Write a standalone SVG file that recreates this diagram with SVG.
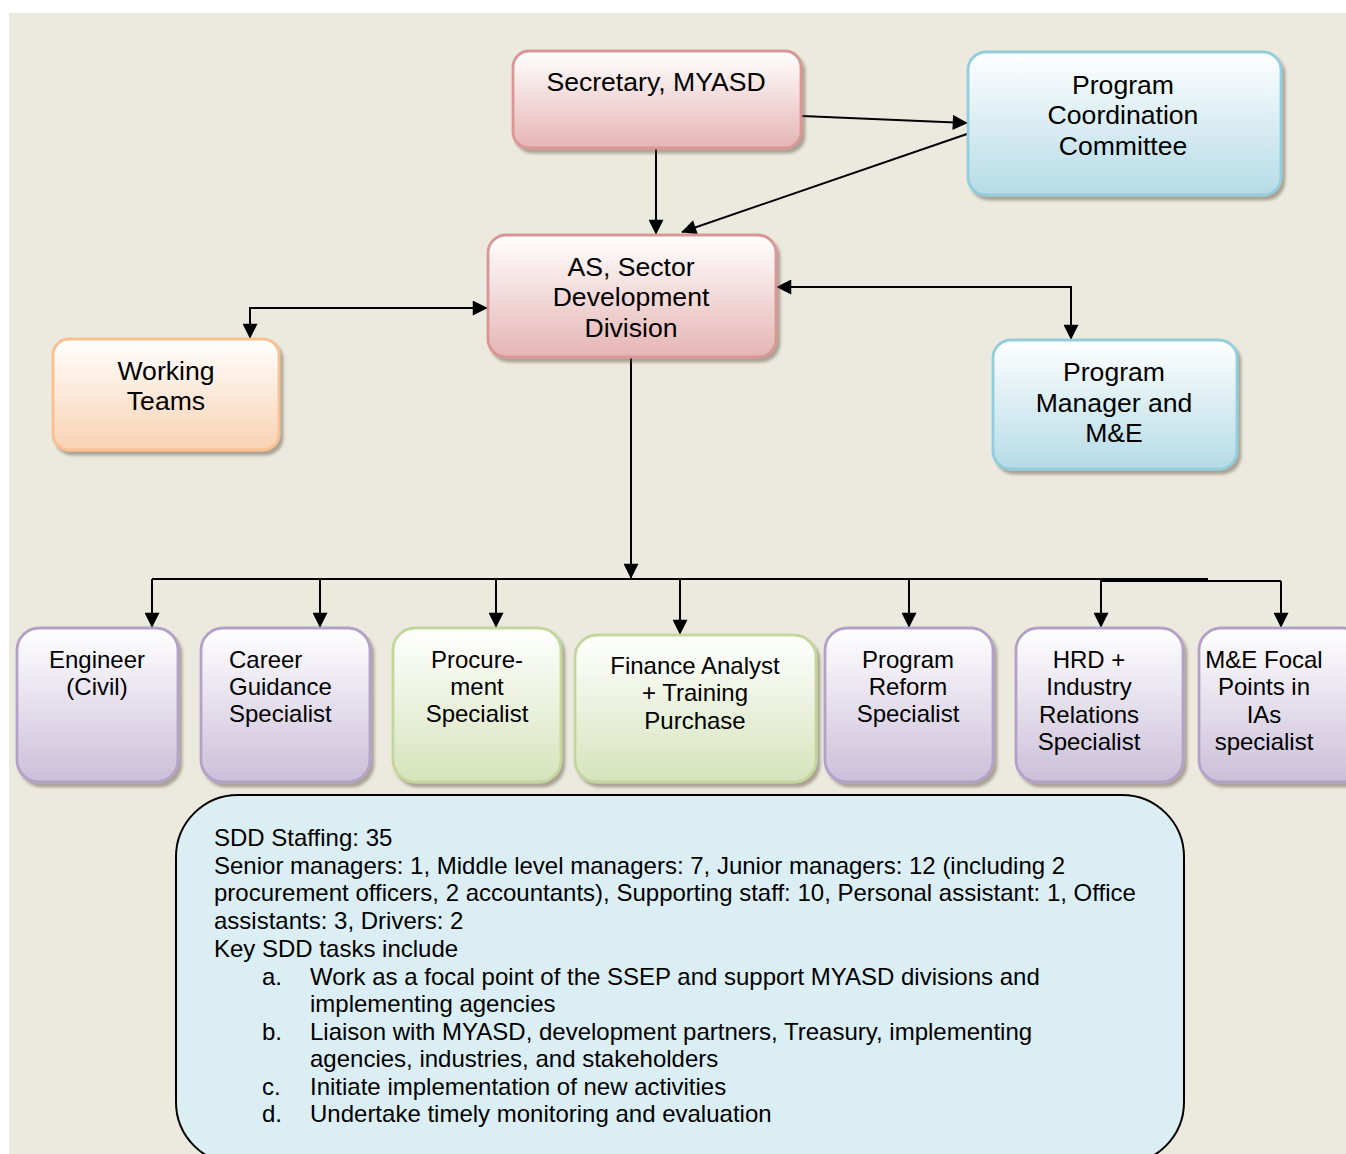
<svg xmlns="http://www.w3.org/2000/svg" width="1346" height="1154" viewBox="0 0 1346 1154">
<defs>
<linearGradient id="gPink" x1="0" y1="0" x2="0" y2="1"><stop offset="0" stop-color="#ffffff"/><stop offset="1" stop-color="#E5B5B4"/></linearGradient>
<linearGradient id="gBlue" x1="0" y1="0" x2="0" y2="1"><stop offset="0" stop-color="#ffffff"/><stop offset="1" stop-color="#B5DBE6"/></linearGradient>
<linearGradient id="gOrange" x1="0" y1="0" x2="0" y2="1"><stop offset="0" stop-color="#ffffff"/><stop offset="1" stop-color="#F9D2B2"/></linearGradient>
<linearGradient id="gLav" x1="0" y1="0" x2="0" y2="1"><stop offset="0" stop-color="#ffffff"/><stop offset="1" stop-color="#CBBFD9"/></linearGradient>
<linearGradient id="gGreen" x1="0" y1="0" x2="0" y2="1"><stop offset="0" stop-color="#ffffff"/><stop offset="1" stop-color="#D6E3BB"/></linearGradient>
<filter id="shadow" x="-10%" y="-10%" width="125%" height="130%">
<feDropShadow dx="3" dy="4" stdDeviation="1.5" flood-color="#5a4a3a" flood-opacity="0.45"/>
</filter>
<marker id="arr" viewBox="0 0 10 10" refX="9.5" refY="5" markerWidth="16" markerHeight="15" markerUnits="userSpaceOnUse" orient="auto-start-reverse">
<path d="M0,0 L10,5 L0,10 z" fill="#000"/>
</marker>
<style>
.box{stroke-width:2.8;filter:url(#shadow)}
.pink{fill:url(#gPink);stroke:#D99694}
.blue{fill:url(#gBlue);stroke:#92CDDC}
.orange{fill:url(#gOrange);stroke:#FAC08F}
.lav{fill:url(#gLav);stroke:#B3A2C7}
.green{fill:url(#gGreen);stroke:#C3D69B}
.t26{font-family:"Liberation Sans",Arial,sans-serif;font-size:26.6px;fill:#000;text-anchor:middle}
.t24{font-family:"Liberation Sans",Arial,sans-serif;font-size:24px;fill:#000;text-anchor:middle}
.tl{font-family:"Liberation Sans",Arial,sans-serif;font-size:24px;fill:#000}
.con{fill:none;stroke:#000;stroke-width:2}
</style>
</defs>
<rect x="0" y="0" width="1346" height="1154" fill="#ffffff"/>
<rect x="9" y="13" width="1337" height="1141" fill="#ECEADF"/>

<g id="connectors">
<path class="con" d="M802,116 L967,123" marker-end="url(#arr)"/>
<path class="con" d="M967,134 L682,232" marker-end="url(#arr)"/>
<path class="con" d="M656,148 L656,234" marker-end="url(#arr)"/>
<path class="con" d="M250,338 L250,308 L487,308" marker-start="url(#arr)" marker-end="url(#arr)"/>
<path class="con" d="M777,287 L1071,287 L1071,339" marker-start="url(#arr)" marker-end="url(#arr)"/>
<path class="con" d="M631,357 L631,578" marker-end="url(#arr)"/>
<path class="con" d="M152,579 L1208,579"/>
<path class="con" d="M1100,581 L1281,581"/>
<path class="con" d="M152,579 L152,627" marker-end="url(#arr)"/>
<path class="con" d="M320,579 L320,627" marker-end="url(#arr)"/>
<path class="con" d="M496,579 L496,627" marker-end="url(#arr)"/>
<path class="con" d="M680,579 L680,634" marker-end="url(#arr)"/>
<path class="con" d="M909,579 L909,627" marker-end="url(#arr)"/>
<path class="con" d="M1101,579 L1101,627" marker-end="url(#arr)"/>
<path class="con" d="M1281,581 L1281,627" marker-end="url(#arr)"/>
</g>

<g id="secretary">
<rect class="box pink" x="513" y="51" width="288" height="97" rx="16"/>
<text class="t26" x="656" y="91">Secretary, MYASD</text>
</g>

<g id="pcc">
<rect class="box blue" x="968" y="52" width="313" height="143" rx="18"/>
<text class="t26" x="1123" y="94">Program</text>
<text class="t26" x="1123" y="124">Coordination</text>
<text class="t26" x="1123" y="155">Committee</text>
</g>

<g id="as-sdd">
<rect class="box pink" x="488" y="235" width="288" height="122" rx="18"/>
<text class="t26" x="631" y="276">AS, Sector</text>
<text class="t26" x="631" y="306">Development</text>
<text class="t26" x="631" y="337">Division</text>
</g>

<g id="working-teams">
<rect class="box orange" x="53" y="339" width="226" height="111" rx="16"/>
<text class="t26" x="166" y="380">Working</text>
<text class="t26" x="166" y="410">Teams</text>
</g>

<g id="pm-me">
<rect class="box blue" x="993" y="340" width="244" height="129" rx="18"/>
<text class="t26" x="1114" y="381">Program</text>
<text class="t26" x="1114" y="412">Manager and</text>
<text class="t26" x="1114" y="442">M&amp;E</text>
</g>

<g id="engineer">
<rect class="box lav" x="17" y="628" width="161" height="154" rx="22"/>
<text class="t24" x="97" y="668">Engineer</text>
<text class="t24" x="97" y="695">(Civil)</text>
</g>

<g id="career">
<rect class="box lav" x="201" y="628" width="169" height="154" rx="22"/>
<text class="tl" x="229" y="668">Career</text>
<text class="tl" x="229" y="695">Guidance</text>
<text class="tl" x="229" y="722">Specialist</text>
</g>

<g id="procurement">
<rect class="box green" x="393" y="628" width="168" height="154" rx="22"/>
<text class="t24" x="477" y="668">Procure-</text>
<text class="t24" x="477" y="695">ment</text>
<text class="t24" x="477" y="722">Specialist</text>
</g>

<g id="finance">
<rect class="box green" x="575" y="635" width="241" height="147" rx="22"/>
<text class="t24" x="695" y="674">Finance Analyst</text>
<text class="t24" x="695" y="701">+ Training</text>
<text class="t24" x="695" y="729">Purchase</text>
</g>

<g id="program-reform">
<rect class="box lav" x="825" y="628" width="168" height="154" rx="22"/>
<text class="t24" x="908" y="668">Program</text>
<text class="t24" x="908" y="695">Reform</text>
<text class="t24" x="908" y="722">Specialist</text>
</g>

<g id="hrd">
<rect class="box lav" x="1016" y="628" width="167" height="154" rx="22"/>
<text class="t24" x="1089" y="668">HRD +</text>
<text class="t24" x="1089" y="695">Industry</text>
<text class="t24" x="1089" y="723">Relations</text>
<text class="t24" x="1089" y="750">Specialist</text>
</g>

<g id="me-focal">
<rect class="box lav" x="1199" y="628" width="165" height="154" rx="22"/>
<text class="t24" x="1264" y="668">M&amp;E Focal</text>
<text class="t24" x="1264" y="695">Points in</text>
<text class="t24" x="1264" y="723">IAs</text>
<text class="t24" x="1264" y="750">specialist</text>
</g>

<g id="staffing-note">
<rect x="176" y="795" width="1008" height="369" rx="62" fill="#DBEEF3" stroke="#000" stroke-width="2"/>
<text class="tl" x="214" y="846">SDD Staffing: 35</text>
<text class="tl" x="214" y="874">Senior managers: 1, Middle level managers: 7, Junior managers: 12 (including 2</text>
<text class="tl" x="214" y="901">procurement officers, 2 accountants), Supporting staff: 10, Personal assistant: 1, Office</text>
<text class="tl" x="214" y="929">assistants: 3, Drivers: 2</text>
<text class="tl" x="214" y="957">Key SDD tasks include</text>
<text class="tl" x="262" y="985">a.</text>
<text class="tl" x="310" y="985">Work as a focal point of the SSEP and support MYASD divisions and</text>
<text class="tl" x="310" y="1012">implementing agencies</text>
<text class="tl" x="262" y="1040">b.</text>
<text class="tl" x="310" y="1040">Liaison with MYASD, development partners, Treasury, implementing</text>
<text class="tl" x="310" y="1067">agencies, industries, and stakeholders</text>
<text class="tl" x="262" y="1095">c.</text>
<text class="tl" x="310" y="1095">Initiate implementation of new activities</text>
<text class="tl" x="262" y="1122">d.</text>
<text class="tl" x="310" y="1122">Undertake timely monitoring and evaluation</text>
</g>
</svg>
